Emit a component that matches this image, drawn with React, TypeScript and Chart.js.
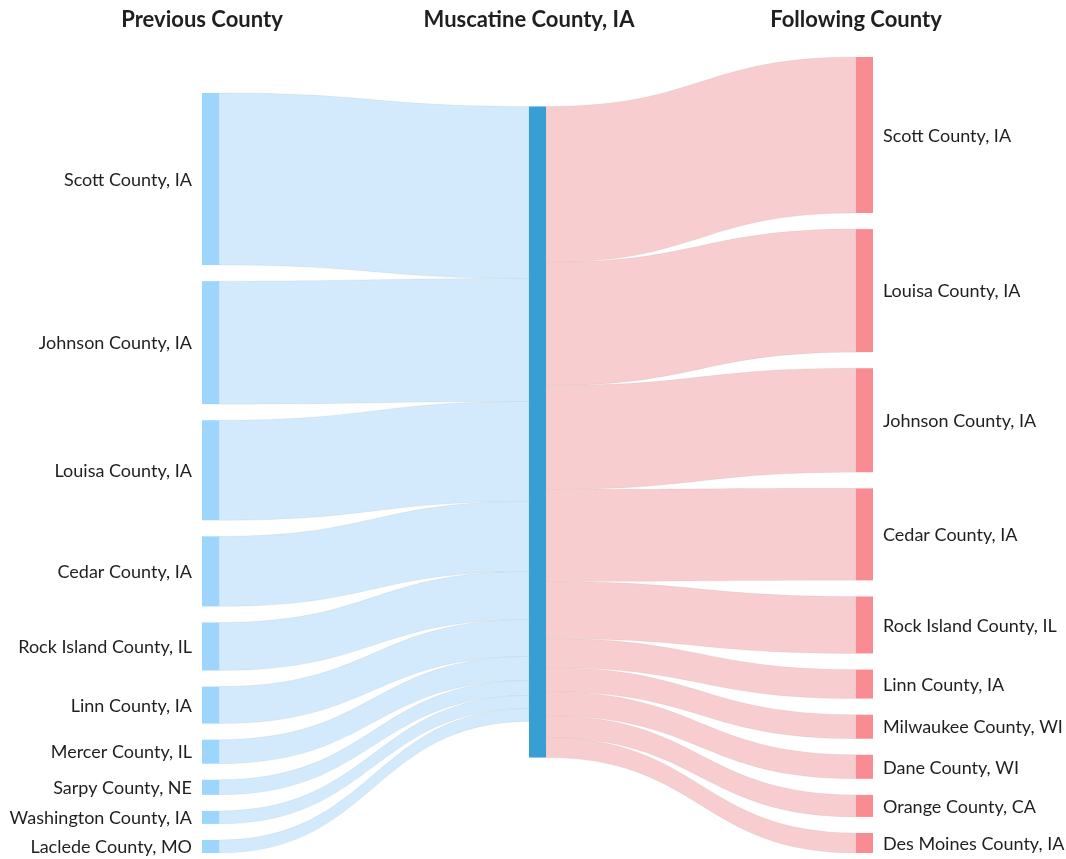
import React, { useEffect, useRef } from 'react';
import { Chart, registerables } from 'chart.js';

Chart.register(...registerables);

const columnTitles = ['Previous County', 'Muscatine County, IA', 'Following County'];
const centerNode = 'Muscatine County, IA';

const previousCounties = [
  'Scott County, IA',
  'Johnson County, IA',
  'Louisa County, IA',
  'Cedar County, IA',
  'Rock Island County, IL',
  'Linn County, IA',
  'Mercer County, IL',
  'Sarpy County, NE',
  'Washington County, IA',
  'Laclede County, MO',
];
const previousValues = [172, 123, 100, 70, 48, 37, 24, 15, 13, 13];

const followingCounties = [
  'Scott County, IA',
  'Louisa County, IA',
  'Johnson County, IA',
  'Cedar County, IA',
  'Rock Island County, IL',
  'Linn County, IA',
  'Milwaukee County, WI',
  'Dane County, WI',
  'Orange County, CA',
  'Des Moines County, IA',
];
const followingValues = [156, 123, 104, 92, 57, 29, 24, 24, 22, 20];

const NODE_PAD = 16.1; // gap between nodes, in value units
const NODE_WIDTH = 17; // px

const COLORS = {
  leftNode: '#9dd5fc',
  leftLink: '#d2eafb',
  midNode: '#379fd3',
  rightNode: '#f98b92',
  rightLink: '#f8cdcf',
  text: '#1f1f1f',
};

type Node = { name: string; col: number; y0: number; y1: number; value: number };
type Link = { s: Node; t: Node; sy0: number; sy1: number; ty0: number; ty1: number; color: string };

function sum(a: number[]) {
  return a.reduce((p, c) => p + c, 0);
}

function layout() {
  const leftTotal = sum(previousValues) + (previousValues.length - 1) * NODE_PAD;
  const rightTotal = sum(followingValues) + (followingValues.length - 1) * NODE_PAD;
  const extent = Math.max(leftTotal, rightTotal);
  const midValue = Math.max(sum(previousValues), sum(followingValues));

  // right column: stacked from top
  const right: Node[] = [];
  let y = extent - rightTotal;
  followingCounties.forEach((name, i) => {
    right.push({ name, col: 2, y0: y, y1: y + followingValues[i], value: followingValues[i] });
    y += followingValues[i] + NODE_PAD;
  });
  // left column: pushed to the bottom
  const left: Node[] = [];
  y = extent - leftTotal;
  previousCounties.forEach((name, i) => {
    left.push({ name, col: 0, y0: y, y1: y + previousValues[i], value: previousValues[i] });
    y += previousValues[i] + NODE_PAD;
  });
  // middle: centred on the weighted centre of its neighbours
  const wc = (ns: Node[]) =>
    sum(ns.map((n) => ((n.y0 + n.y1) / 2) * n.value)) / sum(ns.map((n) => n.value));
  const centre = (wc(left) + wc(right)) / 2 + 2;
  const mid: Node = {
    name: centerNode,
    col: 1,
    y0: centre - midValue / 2,
    y1: centre + midValue / 2,
    value: midValue,
  };

  const links: Link[] = [];
  let ty = mid.y0;
  left.forEach((n) => {
    links.push({ s: n, t: mid, sy0: n.y0, sy1: n.y1, ty0: ty, ty1: ty + n.value, color: COLORS.leftLink });
    ty += n.value;
  });
  let sy = mid.y0;
  right.forEach((n) => {
    links.push({ s: mid, t: n, sy0: sy, sy1: sy + n.value, ty0: n.y0, ty1: n.y1, color: COLORS.rightLink });
    sy += n.value;
  });
  return { left, right, mid, links, extent };
}

const LAYOUT = layout();

const sankeyPlugin = {
  id: 'sankeyDraw',
  afterDraw(chart: any) {
    const { ctx } = chart;
    const xs = chart.scales.x;
    const ys = chart.scales.y;
    const X0 = (col: number) => xs.getPixelForValue(col);
    const Y = (v: number) => ys.getPixelForValue(v);
    ctx.save();

    // links
    LAYOUT.links.forEach((l) => {
      const sx = X0(l.s.col) + NODE_WIDTH;
      const tx = X0(l.t.col);
      const mx = (sx + tx) / 2;
      ctx.beginPath();
      ctx.moveTo(sx, Y(l.sy0));
      ctx.bezierCurveTo(mx, Y(l.sy0), mx, Y(l.ty0), tx, Y(l.ty0));
      ctx.lineTo(tx, Y(l.ty1));
      ctx.bezierCurveTo(mx, Y(l.ty1), mx, Y(l.sy1), sx, Y(l.sy1));
      ctx.closePath();
      ctx.fillStyle = l.color;
      ctx.fill();
      ctx.strokeStyle = 'rgba(150,150,150,0.12)';
      ctx.lineWidth = 1;
      ctx.stroke();
    });

    // nodes
    const drawNode = (n: Node, color: string) => {
      ctx.fillStyle = color;
      const x = X0(n.col);
      ctx.fillRect(x, Y(n.y0), NODE_WIDTH, Y(n.y1) - Y(n.y0));
    };
    LAYOUT.left.forEach((n) => drawNode(n, COLORS.leftNode));
    LAYOUT.right.forEach((n) => drawNode(n, COLORS.rightNode));
    drawNode(LAYOUT.mid, COLORS.midNode);

    // labels
    ctx.fillStyle = COLORS.text;
    ctx.font = '18px Lato, "Noto Sans", sans-serif';
    ctx.textBaseline = 'middle';
    ctx.textAlign = 'right';
    LAYOUT.left.forEach((n) => {
      ctx.fillText(n.name, X0(0) - 10, (Y(n.y0) + Y(n.y1)) / 2 + 1);
    });
    ctx.textAlign = 'left';
    LAYOUT.right.forEach((n) => {
      ctx.fillText(n.name, X0(2) + NODE_WIDTH + 10, (Y(n.y0) + Y(n.y1)) / 2 + 1);
    });

    // column titles
    ctx.font = 'bold 22px Lato, "Noto Sans", sans-serif';
    ctx.textAlign = 'center';
    columnTitles.forEach((t, i) => {
      ctx.fillText(t, X0(i), 20);
    });
    ctx.restore();
  },
};

export default function App() {
  const ref = useRef<HTMLCanvasElement | null>(null);
  useEffect(() => {
    if (!ref.current) return;
    const chart = new Chart(ref.current, {
      type: 'scatter',
      data: { datasets: [{ data: [] }] },
      options: {
        animation: false,
        responsive: false,
        events: [],
        layout: { padding: { left: 202, right: 210, top: 57, bottom: 6 } },
        plugins: { legend: { display: false }, tooltip: { enabled: false } },
        scales: {
          x: { type: 'linear', min: 0, max: 2, display: false },
          y: { type: 'linear', min: 0, max: LAYOUT.extent, reverse: true, display: false },
        },
      },
      plugins: [sankeyPlugin],
    });
    return () => chart.destroy();
  }, []);
  return (
    <div style={{ position: 'absolute', left: 0, top: 0, width: 1066, height: 859, background: '#fff' }}>
      <canvas ref={ref} width={1066} height={859} />
    </div>
  );
}
